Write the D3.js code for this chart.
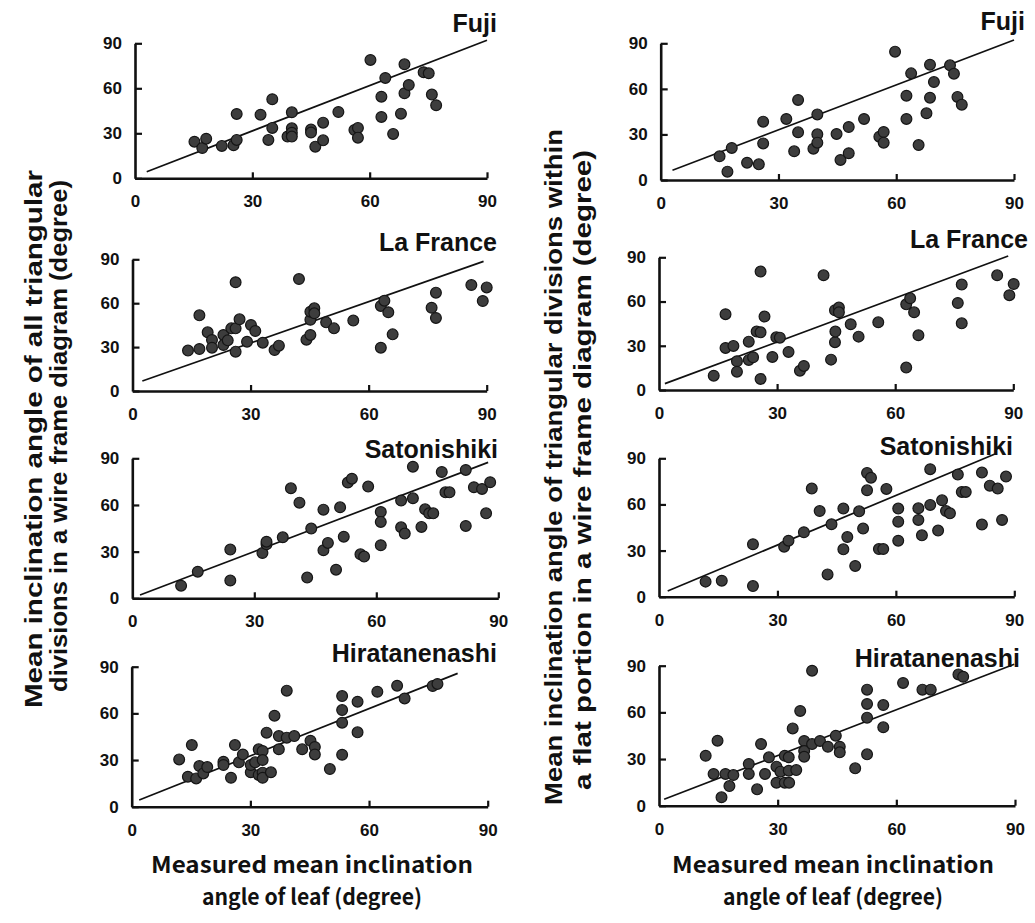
<!DOCTYPE html>
<html>
<head>
<meta charset="utf-8">
<script src="https://cdn.jsdelivr.net/npm/d3@7"></script>
<style>
  html, body { margin: 0; padding: 0; background: #fff; }
  svg { display: block; }
</style>
</head>
<body>
<svg id="chart" width="1035" height="923"></svg>
<script>
// Cultivar names, one panel per cultivar in each column
const cultivars = ["Fuji", "La France", "Satonishiki", "Hiratanenashi"];
const tickValues = [0, 30, 60, 90];

// Left column: all triangular divisions, [measured leaf angle, wire-frame angle]
const fujiAll = [[15.2,24.4],[17.2,20.2],[18.2,26.4],[22.2,21.6],[25.2,22],[26,25.6],[26,42.9],[32.1,42.4],[34.1,25.6],[35.1,52.7],[35.1,33.6],[39,27.8],[40.1,44],[40.1,33.3],[40.1,30.4],[40.1,27.8],[45,32.5],[45,30.5],[46.1,21.1],[48.1,37.1],[48.1,25.3],[52,44.2],[56.1,32.2],[57,33.6],[57,27.1],[60.2,78.9],[63,54.4],[63,40.9],[64,66.9],[66,29.6],[68,43.1],[68.9,76],[68.9,56.7],[70,62.2],[73.8,70.7],[75.1,70],[75.9,55.8],[77,48.7]];
const laFranceAll = [[14.1,27.6],[17,28.7],[17,51.7],[19.1,40.1],[20.2,34.9],[20.2,29.6],[23.1,38.3],[23.1,31.4],[24.2,34.6],[25.1,42.8],[26.2,42.8],[26.2,26.9],[26.2,74.3],[27.2,49],[29.1,33.7],[30.1,45.1],[31.2,41],[33.1,33],[36.1,28],[37.2,31],[42.3,76.5],[44.2,35.1],[45.2,38.3],[45.2,48.7],[45.2,54.2],[46.2,56.5],[46.2,53.1],[49.2,46.9],[51.2,42.8],[56.1,48.1],[63.1,29.6],[63.1,58.1],[64,61.7],[65,53.8],[66.1,38.7],[76,56.9],[77.1,67.2],[77.1,49.9],[86.1,72.4],[89,61.5],[90,70.8]];
const satonishikiAll = [[12,8.1],[16.1,17.1],[24.1,31.3],[24.1,11.4],[32,29.1],[33,34.7],[33,36.4],[37,39.2],[39,70.7],[41.1,61.5],[43,13.3],[44,44.8],[47,57],[47,30.9],[48.1,35.6],[50.1,18.4],[51.1,58.5],[52,39.6],[53,74.4],[54,76.9],[56.1,28.3],[57,26.8],[58,71.8],[61.1,55.5],[61.1,49.1],[61.1,34.1],[66.1,62.8],[66.1,45.6],[67,41.6],[69,84.6],[69,64.3],[71.1,45.9],[72,57.2],[73,54.6],[74,54.6],[76.1,81.2],[77,68.1],[78,68.1],[82,82.5],[82,46.5],[84,71.4],[86,70.3],[87,54.6],[88,74.6]];
const hiratanenashiAll = [[12,30.4],[14.2,19.3],[15.2,39.6],[16.3,18.2],[17.1,26.1],[18.1,21.4],[19.1,25.5],[23.2,28.9],[23.2,26.8],[25.1,18.6],[26.1,39.6],[27.1,28.5],[28.1,33.6],[30.1,22.1],[30.1,26.8],[31.2,28.5],[32.1,36.9],[32.1,20.4],[33.1,35.8],[33.1,30],[33.1,21.9],[33.1,18.6],[35.2,22.1],[34.1,47.6],[36.1,58.5],[37.2,45.4],[37.2,36.9],[39.2,74.6],[39.2,44.4],[41.1,45.4],[43.1,36.9],[45.2,42.4],[46.3,38.4],[46.3,33.6],[50.1,24.2],[53.2,71.1],[53.2,62.1],[53.2,54],[53.2,33.4],[57.1,67.5],[57.1,47.8],[62.1,73.9],[67.1,77.8],[69,69.6],[76.1,77.6],[77.3,78.9]];

// Right column: triangular divisions within a flat portion
const fujiFlat = [[15,15.6],[17,5.5],[18.1,21.1],[22,11.4],[25,10.3],[26.1,38.4],[26.1,24.1],[32,40.2],[34,18.9],[35,52.7],[35,31.4],[38.9,20.6],[39.9,43.2],[39.9,30.1],[39.9,24.6],[44.8,30.3],[45.8,13.2],[47.9,34.9],[47.9,17.6],[51.8,40.2],[55.7,28.5],[56.8,31.6],[56.8,24.6],[59.7,84.5],[62.6,55.5],[62.6,40.2],[63.8,70.2],[65.7,23],[67.7,43.9],[68.6,75.9],[68.6,54.2],[69.6,64.5],[73.7,75.5],[74.7,70],[75.6,54.7],[76.7,49.6]];
const laFranceFlat = [[13.9,9.7],[16.9,51.4],[16.9,28.5],[18.9,29.9],[19.8,19.5],[19.8,12.4],[22.8,32.8],[22.8,20.4],[23.9,22.2],[24.8,39.6],[25.8,39.1],[25.8,7.5],[25.8,80.3],[26.8,49.8],[28.8,22.4],[29.8,35.7],[30.7,35.5],[32.9,25.8],[35.8,13.1],[36.8,16.3],[41.8,77.8],[43.7,20.6],[44.7,54.1],[44.7,32.4],[44.8,39.6],[45.7,55.9],[45.7,52.7],[48.7,44.6],[50.7,36.2],[55.7,45.9],[62.8,15.2],[62.8,58.1],[63.8,62.2],[64.8,52.7],[65.9,37.1],[75.9,59],[76.9,71.5],[76.9,45.2],[85.9,77.8],[89,64.3],[90.1,71.9]];
const satonishikiFlat = [[11.8,9.8],[15.9,10.4],[23.8,34.1],[23.8,6.9],[31.7,32.5],[32.8,36.4],[36.7,41.9],[38.7,70.3],[40.7,55.7],[42.7,14.5],[43.7,47.1],[46.7,57.3],[46.7,30.8],[47.7,38.8],[49.7,20],[50.7,55.5],[51.7,44.3],[52.7,80.5],[52.7,69.2],[53.7,77.4],[55.7,31],[56.8,31],[57.6,70.1],[60.6,57.3],[60.6,48.8],[60.6,36.4],[65.7,57.5],[65.7,49.9],[66.6,39.9],[68.7,59.7],[68.7,82.9],[70.7,43],[71.7,62.7],[72.7,55.7],[73.7,54.2],[75.7,79.4],[76.7,68.1],[77.7,68.1],[81.8,80.7],[81.8,46.9],[83.8,72.2],[85.8,70.3],[86.9,49.9],[87.9,78.1]];
const hiratanenashiFlat = [[11.8,32.1],[13.8,20.4],[14.8,41.8],[15.8,5.4],[16.8,20.4],[17.8,12.6],[18.8,19.7],[22.7,26.8],[22.7,20.4],[24.8,10.5],[25.8,39.6],[26.8,20.4],[27.8,31.1],[29.7,25.1],[29.7,14.8],[30.7,21.9],[31.8,32.1],[31.8,14.8],[32.8,31.1],[32.8,22.5],[32.9,14.8],[33.8,49.7],[34.7,22.9],[35.7,60.9],[36.7,41.6],[36.7,35.1],[36.7,31.5],[38.7,86.8],[38.7,39.6],[40.7,41.6],[42.7,37.9],[44.7,45],[45.7,37.9],[45.7,34.3],[49.6,24],[52.6,74.6],[52.6,65.4],[52.6,56.6],[52.6,33],[56.7,64.7],[56.7,50.4],[61.7,78.9],[66.6,74.6],[68.7,74.6],[75.7,84.4],[76.9,82.9]];

// Fitted regression lines, given as end points
const fitAll = [[[3,4.4],[90,92]], [[2.5,6.8],[89.2,88.6]], [[1.9,2.1],[87.5,87.4]], [[1.9,4.3],[82.4,85.7]]];
const fitFlat = [[[3,6.4],[90,92.2]], [[1.5,4.3],[88.7,90.9]], [[2.2,3.7],[85.1,92.8]], [[1.3,4.1],[89.8,90.9]]];

const seriesAll = [fujiAll, laFranceAll, satonishikiAll, hiratanenashiAll];
const seriesFlat = [fujiFlat, laFranceFlat, satonishikiFlat, hiratanenashiFlat];

const yTitleLeft = ["Mean inclination angle of all triangular", "divisions in a wire frame diagram (degree)"];
const yTitleRight = ["Mean inclination angle of triangular divisions within", "a flat portion in a wire frame diagram (degree)"];
const xTitle = ["Measured mean inclination", "angle of leaf (degree)"];

// Panel frames in pixels: x of 0 and 90, y of 0 and 90, title anchor
const frames = [
  {x0:135,   x1:487,    y0:178.3, y1:43.3,  tx:497,  ty:32},
  {x0:132.5, x1:486.7,  y0:391,   y1:259.3, tx:497,  ty:251},
  {x0:132.3, x1:498.3,  y0:598.3, y1:458.3, tx:498,  ty:458},
  {x0:131.7, x1:487.7,  y0:806.7, y1:666.7, tx:497,  ty:662},
  {x0:660.7, x1:1014,   y0:180,   y1:43.3,  tx:1025, ty:30},
  {x0:659,   x1:1013.3, y0:390,   y1:257.3, tx:1028, ty:248},
  {x0:659,   x1:1014.3, y0:596.7, y1:458.3, tx:1013, ty:455},
  {x0:659,   x1:1015,   y0:805.7, y1:665.7, tx:1020, ty:667}
];

const svg = d3.select("#chart");
const ink = "#111";
const tickFont = "'Liberation Sans', Arial, sans-serif";

function drawPanel(frame, title, pts, fit) {
  const x = d3.scaleLinear().domain([0, 90]).range([frame.x0, frame.x1]);
  const y = d3.scaleLinear().domain([0, 90]).range([frame.y0, frame.y1]);
  const g = svg.append("g");

  const xAxis = g.append("g")
    .attr("transform", `translate(0,${frame.y0})`)
    .call(d3.axisBottom(x).tickValues(tickValues).tickSizeInner(-6).tickSizeOuter(0).tickPadding(17));
  const yAxis = g.append("g")
    .attr("transform", `translate(${frame.x0},0)`)
    .call(d3.axisLeft(y).tickValues(tickValues).tickSizeInner(-7).tickSizeOuter(0).tickPadding(13));

  [xAxis, yAxis].forEach(a => {
    a.select(".domain").attr("stroke", ink).attr("stroke-width", 2.6);
    a.selectAll(".tick line").attr("stroke", ink).attr("stroke-width", 2.2);
    a.selectAll(".tick text")
      .attr("fill", ink)
      .style("font-family", tickFont)
      .style("font-weight", "bold")
      .style("font-size", "17px");
  });
  xAxis.selectAll(".tick").filter(d => d === 0).select("line").remove();

  g.append("line")
    .attr("x1", x(fit[0][0])).attr("y1", y(fit[0][1]))
    .attr("x2", x(fit[1][0])).attr("y2", y(fit[1][1]))
    .attr("stroke", ink).attr("stroke-width", 1.7);

  g.selectAll("circle").data(pts).join("circle")
    .attr("cx", d => x(d[0]))
    .attr("cy", d => y(d[1]))
    .attr("r", 5.4)
    .attr("fill", "#3d3d3d")
    .attr("stroke", "#151515")
    .attr("stroke-width", 1.2);

  g.append("text")
    .attr("x", frame.tx).attr("y", frame.ty)
    .attr("text-anchor", "end")
    .style("font-family", tickFont)
    .style("font-weight", "bold")
    .style("font-size", "25px")
    .attr("fill", ink)
    .text(title);
}

cultivars.forEach((c, i) => {
  drawPanel(frames[i], c, seriesAll[i], fitAll[i]);
  drawPanel(frames[i + 4], c, seriesFlat[i], fitFlat[i]);
});

// Rotated y-axis titles, two lines each
function yTitle(lines, specs) {
  lines.forEach((t, i) => {
    const s = specs[i];
    svg.append("text")
      .attr("transform", `translate(${s.x},${s.cy}) rotate(-90)`)
      .attr("text-anchor", "middle")
      .attr("textLength", s.len)
      .attr("lengthAdjust", "spacingAndGlyphs")
      .style("font-family", tickFont)
      .style("font-weight", "bold")
      .style("font-size", "24px")
      .attr("fill", ink)
      .text(t);
  });
}
yTitle(yTitleLeft, [{x:42, cy:439, len:538}, {x:67, cy:436, len:512}]);
yTitle(yTitleRight, [{x:562, cy:467, len:676}, {x:591, cy:470, len:640}]);

// Shared x-axis title under each column
function xTitleAt(cx) {
  const specs = [{y:873, len:322}, {y:905, len:220}];
  xTitle.forEach((t, i) => {
    svg.append("text")
      .attr("x", cx).attr("y", specs[i].y)
      .attr("text-anchor", "middle")
      .attr("textLength", specs[i].len)
      .attr("lengthAdjust", "spacingAndGlyphs")
      .style("font-family", "'Noto Sans CJK JP', 'Noto Sans', sans-serif")
      .style("font-weight", "bold")
      .style("font-size", "22px")
      .attr("fill", ink)
      .text(t);
  });
}
xTitleAt(312);
xTitleAt(833);
</script>
</body>
</html>
